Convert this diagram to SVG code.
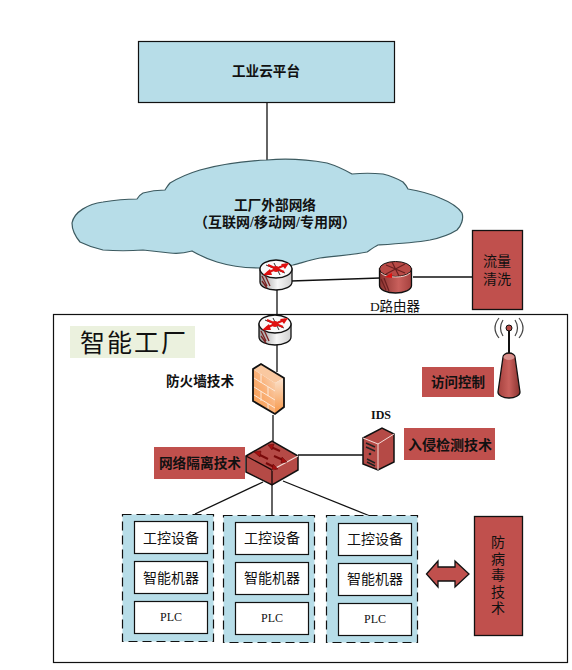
<svg xmlns="http://www.w3.org/2000/svg" width="572" height="670" viewBox="0 0 572 670">
<style>
.t{font-family:"Liberation Serif","Noto Sans CJK SC",serif;fill:#111;text-anchor:middle}
.s{font-family:"Liberation Serif","Noto Sans CJK SC",serif;fill:#111;text-anchor:middle}
.b{font-weight:700}
.l{stroke:#111;stroke-width:1.3;fill:none}
.red{fill:#c0504d;stroke:none}
.redk{fill:#c0504d;stroke:#111;stroke-width:1.3}
.w{fill:#fff;stroke:#111;stroke-width:1.2}
.grp{fill:#b7dde8;stroke:#111;stroke-width:1.2;stroke-dasharray:9 5}
.ra{stroke:#e01010;stroke-width:2;fill:none}
.rh{fill:#e01010;stroke:none}
.da{stroke:#7a0a0a;stroke-width:2;fill:none}
.dh{fill:#a50f0f;stroke:#5a0808;stroke-width:.5}
</style>
<defs>
<linearGradient id="rt" x1="0" x2="1" y1="0" y2="0"><stop offset="0" stop-color="#999"/><stop offset=".55" stop-color="#f6f6f6"/><stop offset="1" stop-color="#d0d0d0"/></linearGradient>
<linearGradient id="rr" x1="0" x2="1" y1="0" y2="0"><stop offset="0" stop-color="#8a3330"/><stop offset=".6" stop-color="#c9605c"/><stop offset="1" stop-color="#a5413e"/></linearGradient>
<linearGradient id="fw" x1="0" x2="1" y1="1" y2="0"><stop offset="0" stop-color="#f79646"/><stop offset=".55" stop-color="#fab27a"/><stop offset="1" stop-color="#f8dcc4"/></linearGradient>
<linearGradient id="fws" x1="0" x2="0" y1="0" y2="1"><stop offset="0" stop-color="#fbe3cf"/><stop offset="1" stop-color="#f79646"/></linearGradient>
<linearGradient id="ant" x1="0" x2="1" y1="0" y2="0"><stop offset="0" stop-color="#a5413e"/><stop offset=".5" stop-color="#c9605c"/><stop offset="1" stop-color="#8a3330"/></linearGradient>
<g id="router">
<path d="M-16 -6V7A16 8 0 0 0 16 7V-6Z" fill="url(#rt)" stroke="#111" stroke-width="1.300"/>
<ellipse cx="0" cy="-6" rx="16" ry="9" fill="#fafafa" stroke="#111" stroke-width="1.300"/>
<path d="M-10 -10L9 -2M-9 -2L10 -11M-2 -12L4 0" stroke="#333" stroke-width="1" fill="none"/>
<path d="M-8 -10L8 -3M-9 -2L9 -10" class="ra"/>
<path d="M13 -12L5 -11L9 -6ZM-13 0L-6 -6L-4 0Z" class="rh"/>
<circle cx="0" cy="-6" r="3" fill="#e01010"/>
<path d="M-14 1L-9 11M-11 0L-6 11M-14 6L-9 13" stroke="#7a2020" stroke-width="1.300" fill="none"/>
</g>
</defs>
<rect width="572" height="670" fill="#fff"/>

<g id="connectors" class="l">
<path d="M267 102V166"/>
<path d="M277 288V316"/>
<path d="M277 345V372"/>
<path d="M273 415V442"/>
<path d="M291 281L380 278"/>
<path d="M413 277H473"/>
<path d="M298 455H363"/>
<path d="M263 482L195 514"/>
<path d="M272 484V515"/>
<path d="M283 481L370 516"/>
</g>

<g id="cloud-platform">
<rect x="138.500" y="41.500" width="256" height="61" fill="#b7dde8" stroke="#111" stroke-width="1.200"/>
<text class="t b" x="266" y="76" font-size="13.600">工业云平台</text>
</g>

<g id="cloud">
<path d="M72 223C74 212 88 204 103 202C115 200 128 199 137 199C139 196 141 194 143 193C150 191 158 190 165 190C167 187 168 185 170 183C180 177 190 173 200 170C222 164 245 161 267 160C290 158 310 160 327 163C337 166 345 170 352 174C362 173 373 173 383 174C391 176 398 179 403 182C405 184 407 187 408 189C420 191 431 194 440 198C450 202 458 207 462 213C464 219 461 226 457 230C449 235 440 238 430 240C413 243 395 244 378 245C374 247 370 250 367 252C352 255 335 256 320 258C310 260 301 263 293 265C282 267 271 268 260 268C245 268 230 266 217 262C207 259 199 255 192 251C185 253 177 254 170 253C161 252 152 251 143 250C130 251 116 251 103 250C94 248 86 245 80 242C75 236 72 229 72 223Z" fill="#b7dde8" stroke="#3c5a60" stroke-width="1.200"/>
<text class="t b" x="275" y="210" font-size="13.700">工厂外部网络</text>
<text class="t b" x="275" y="226.500" font-size="14">（互联网/移动网/专用网）</text>
</g>

<g id="router-1"><use href="#router" x="276" y="275"/></g>

<g id="d-router">
<path d="M379.500 269V285.500A16 7.500 0 0 0 411.500 285.500V269Z" fill="url(#rr)" stroke="#111" stroke-width="1.300"/>
<ellipse cx="395.500" cy="269" rx="16" ry="7.500" fill="#b84a46" stroke="#111" stroke-width="1"/>
<path d="M381 273A16 7 0 0 0 410 273" fill="none" stroke="#f0d0c8" stroke-width="1"/>
<path d="M386 265L405 273M405 264L386 274M392 262L399 276" stroke="#6a2020" stroke-width="1.200" fill="none"/>
<path d="M385 277L392 273L392 278Z" fill="#e01010"/>
<path d="M381 279L386 290M384 278L389 291" stroke="#6a2020" stroke-width="1.200" fill="none"/>
<text class="s" x="395" y="311" font-size="13.500">D路由器</text>
</g>

<g id="traffic-clean">
<rect x="472.500" y="230.500" width="50" height="79" class="redk"/>
<text class="t" x="497" y="266" font-size="14">流量</text>
<text class="t" x="497" y="284" font-size="14">清洗</text>
</g>

<g id="factory">
<rect x="53.500" y="314.500" width="514" height="348" fill="none" stroke="#111" stroke-width="1.200"/>
<rect x="70" y="326" width="125" height="32" fill="#ebf1de"/>
<text class="t" x="134" y="352" font-size="25" letter-spacing="2">智能工厂</text>
</g>

<g id="router-2"><use href="#router" x="275" y="330"/></g>

<g id="firewall">
<text class="t b" x="200" y="386" font-size="13.600">防火墙技术</text>
<path d="M253 369L275 383V414L253 401Z" fill="url(#fw)"/>
<path d="M253 369L261 364L284 378L275 383Z" fill="#f9c8a0"/>
<path d="M275 383L284 378V407L275 414Z" fill="url(#fws)"/>
<path d="M254 378L275 391M254 387L275 400M254 395L275 408M261 374V383M268 387V396M261 391V401M268 404V410" stroke="#fde9d9" stroke-width="1" fill="none"/>
<path d="M253 369L261 364L284 378V407L275 414L253 401Z" fill="none" stroke="#111" stroke-width="1.800"/>
</g>

<g id="ids">
<text class="s b" x="381" y="419" font-size="12">IDS</text>
<path d="M363 438L382 428L394 434V462L378 470L363 464Z" fill="#b54a46" stroke="#111" stroke-width="1.500"/>
<path d="M363 438L378 444V470M378 444L394 434" fill="none" stroke="#f4dcd8" stroke-width="1"/>
<path d="M366 443L375 447M366 447L375 451M367 459L375 463M367 462L375 466" stroke="#222" stroke-width="1.500"/>
<circle cx="370" cy="454" r="1.300" fill="#222"/>
<rect x="404" y="428" width="91" height="32" class="red"/>
<text class="t b" x="450" y="450" font-size="14">入侵检测技术</text>
</g>

<g id="switch">
<rect x="154" y="447" width="91" height="32" class="red"/>
<text class="t b" x="200" y="468" font-size="13.700">网络隔离技术</text>
<path d="M246 456L272 441L298 456V470L272 485L246 472Z" fill="#b54a46" stroke="#111" stroke-width="1.500"/>
<path d="M246 456L272 470V485" fill="none" stroke="#1a0808" stroke-width="1.300"/>
<path d="M272 470L298 456" fill="none" stroke="#f4dcd8" stroke-width="1.200"/>
<path d="M271 447L280 451M258 454L268 459M274 456L283 460M266 463L274 467" class="da"/>
<path d="M268 445L274 444L272 450ZM254 452L261 451L260 457ZM287 462L281 463L282 457ZM278 469L272 470L273 464Z" class="dh"/>
</g>

<g id="access">
<rect x="422" y="367" width="72" height="30" class="red"/>
<text class="t b" x="458" y="387" font-size="13.500">访问控制</text>
</g>

<g id="antenna">
<path d="M509 328V354" stroke="#111" stroke-width="2"/>
<circle cx="509" cy="328" r="3" fill="#b54a46" stroke="#111"/>
<path d="M503 320Q498 328 503 336M515 320Q520 328 515 336M499 318Q491 328 499 338M519 318Q527 328 519 338" fill="none" stroke="#444" stroke-width="1.200"/>
<path d="M503 357A6 4 0 0 1 515 357L520 392A11 6 0 0 1 498 392Z" fill="url(#ant)" stroke="#111" stroke-width="1.300"/>
<ellipse cx="509" cy="357" rx="5.500" ry="3" fill="#d9908c"/>
</g>

<g id="group-1">
<rect x="122.500" y="514.500" width="91" height="127" class="grp"/>
<rect x="134.500" y="521.500" width="73" height="32" class="w"/>
<text class="t" x="171" y="543" font-size="14">工控设备</text>
<rect x="134.500" y="561.500" width="73" height="32" class="w"/>
<text class="t" x="171" y="583" font-size="14">智能机器</text>
<rect x="134.500" y="601.500" width="73" height="32" class="w"/>
<text class="s" x="171" y="621" font-size="12">PLC</text>
</g>
<g id="group-2">
<rect x="223.500" y="515.500" width="91" height="127" class="grp"/>
<rect x="235.500" y="522.500" width="73" height="32" class="w"/>
<text class="t" x="272" y="543" font-size="14">工控设备</text>
<rect x="235.500" y="562.500" width="73" height="32" class="w"/>
<text class="t" x="272" y="583" font-size="14">智能机器</text>
<rect x="235.500" y="602.500" width="73" height="32" class="w"/>
<text class="s" x="272" y="622" font-size="12">PLC</text>
</g>
<g id="group-3">
<rect x="326.500" y="515.500" width="91" height="127" class="grp"/>
<rect x="338.500" y="523.500" width="73" height="32" class="w"/>
<text class="t" x="375" y="544" font-size="14">工控设备</text>
<rect x="338.500" y="563.500" width="73" height="32" class="w"/>
<text class="t" x="375" y="584" font-size="14">智能机器</text>
<rect x="338.500" y="603.500" width="73" height="32" class="w"/>
<text class="s" x="375" y="623" font-size="12">PLC</text>
</g>

<g id="double-arrow">
<path d="M426.500 574L438 561V567H455V561L469 574L455 587V581H438V587Z" class="redk"/>
</g>

<g id="antivirus">
<rect x="474.500" y="516.500" width="48" height="119" class="redk"/>
<text class="t" x="498" y="547" font-size="14">防</text>
<text class="t" x="498" y="563.500" font-size="14">病</text>
<text class="t" x="498" y="580" font-size="14">毒</text>
<text class="t" x="498" y="596.500" font-size="14">技</text>
<text class="t" x="498" y="613" font-size="14">术</text>
</g>
</svg>
